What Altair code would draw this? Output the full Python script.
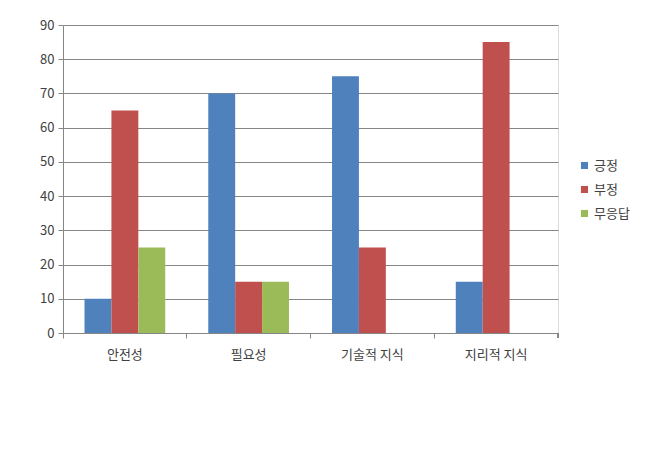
import altair as alt
import pandas as pd

categories = ["안전성", "필요성", "기술적 지식", "지리적 지식"]
series = ["긍정", "부정", "무응답"]
positive = [10, 70, 75, 15]
negative = [65, 15, 25, 85]
no_answer = [25, 15, 0, 0]
colors = ["#4F81BD", "#C0504D", "#9BBB59"]
y_ticks = [0, 10, 20, 30, 40, 50, 60, 70, 80, 90]

rows = []
for s, vals in zip(series, [positive, negative, no_answer]):
    for c, v in zip(categories, vals):
        rows.append({"category": c, "series": s, "value": v})
df = pd.DataFrame(rows)

FONT = "Noto Sans CJK KR"

bars = alt.Chart(df).mark_bar().encode(
    x=alt.X("category:N", sort=categories, title=None,
            scale=alt.Scale(paddingInner=0, paddingOuter=0),
            axis=alt.Axis(labelAngle=0, bandPosition=0, domainColor="#868686",
                          tickColor="#868686", tickSize=5, labelPadding=10,
                          labelFontSize=13, labelColor="#404040", labelFont=FONT)),
    xOffset=alt.XOffset("series:N", sort=series,
                        scale=alt.Scale(paddingInner=0, paddingOuter=0.8)),
    y=alt.Y("value:Q", title=None,
            scale=alt.Scale(domain=[0, 90]),
            axis=alt.Axis(values=y_ticks, domainColor="#868686", tickColor="#868686",
                          tickSize=5, gridColor="#868686", gridWidth=1,
                          labelFontSize=13, labelColor="#404040", labelFont=FONT,
                          labelPadding=4)),
    color=alt.Color("series:N", sort=series,
                    scale=alt.Scale(domain=series, range=colors),
                    legend=alt.Legend(title=None, orient="none", legendX=515, legendY=134,
                                      symbolType="square", symbolSize=50,
                                      labelFontSize=13, labelColor="#404040", labelFont=FONT,
                                      rowPadding=10, symbolStrokeWidth=0, labelOffset=3)),
)

end_tick = alt.Chart(df).mark_rule(color="#868686").encode(
    x=alt.value(495), y=alt.value(308), y2=alt.value(313)
)

chart = alt.layer(bars, end_tick).properties(
    width=495, height=308,
    autosize=alt.AutoSizeParams(type="none"),
    padding={"left": 55, "top": 17, "right": 80, "bottom": 110},
).configure_view(stroke=None).configure(background="white")

chart.save("out.html", embed_options={"renderer": "svg", "actions": False})
